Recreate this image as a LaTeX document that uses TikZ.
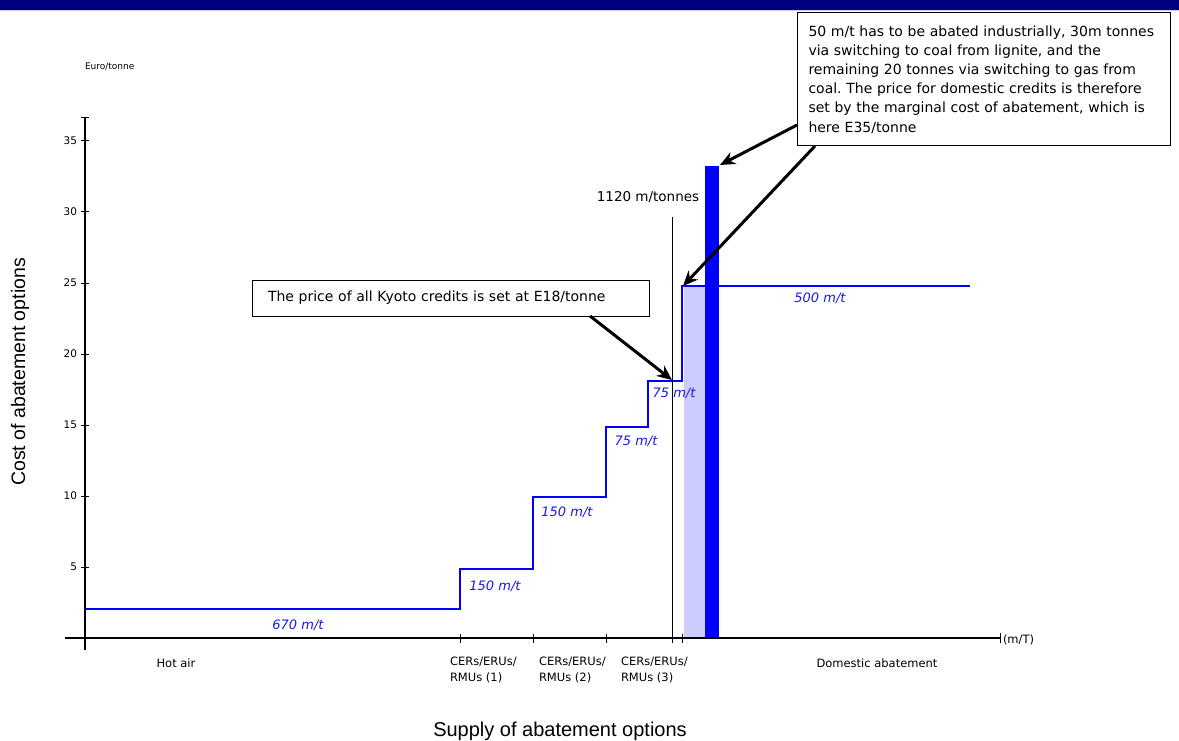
\documentclass[tikz,border=0pt]{standalone}
\usepackage{fontspec}
\setmainfont{DejaVu Sans}
\newfontfamily\arialfont{Liberation Sans}
\usetikzlibrary{arrows.meta, calc}
\definecolor{navyband}{RGB}{0,0,128}
\definecolor{stepblue}{RGB}{0,0,255}
\definecolor{lightbar}{RGB}{204,204,255}
\definecolor{labelblue}{RGB}{25,25,235}
\frenchspacing

\begin{document}
\begin{tikzpicture}[x=1pt, y=-1pt, every node/.style={inner sep=0pt, outer sep=0pt}]
	\tikzstyle{axis}=[line width=1.5pt, black]
	\tikzstyle{supply}=[line width=2pt, stepblue]
	\tikzstyle{callout}=[
		draw,
		line width=1pt,
		fill=white,
		align=left,
		font=\fontsize{14}{19.2}\selectfont
	]
	\tikzstyle{pointer}=[line width=3pt, -{Stealth[length=15pt, width=13pt]}]
	\tikzstyle{small}=[font=\fontsize{11.5}{16}\selectfont, align=left]
	\tikzstyle{ticklabel}=[anchor=east, font=\fontsize{10.5}{12}\selectfont]
	\tikzstyle{amount}=[font=\fontsize{13}{15}\selectfont\itshape, text=labelblue]
	
	\useasboundingbox (0,0) rectangle (1179,741);
	\fill[navyband] (0,0) rectangle (1179,10);
	\fill[lightbar] (0,10) rectangle (1179,11.5);
	
	% supply curve and bars
	\fill[lightbar] (684,286) rectangle (705,638);
	\draw[supply] (85,609) -| (460,569) -| (533,497) -| (606,427) -| (648,381) -| (682,286) -- (970,286);
	\fill[stepblue] (705,166) rectangle (719,638);
	
	% axes
	\draw[axis] (85,118) -- (85,650);
	\draw[axis] (65,638) -- (1000,638);
	\draw[line width=1pt] (81,118) -- (89,118);
	\draw[line width=1pt] (1000,633) -- (1000,643);
	\foreach \x in {460,533,606,682}
		\draw[line width=1pt] (\x,634) -- (\x,643);
	\foreach \v in {5,10,...,35}{
		\pgfmathsetmacro{\yy}{638-14.2*\v}
		\draw[line width=1pt] (81,\yy) -- (89,\yy);
		\node[ticklabel] (tick\v) at (77,\yy) {\v};
	}
	
	% limit line
	\coordinate (limittop) at (672,217);
	\coordinate (limitbot) at (672,643);
	\draw[line width=1pt] (limittop) -- (limitbot);
	\node[font=\fontsize{13.5}{16}\selectfont] (limit) at (648,197) {1120 m/tonnes};
	
	% amounts
	\node[amount] (hotairamt) at (298,625) {670 m/t};
	\node[amount] (cer1amt) at (495,586) {150 m/t};
	\node[amount] (cer2amt) at (567,512) {150 m/t};
	\node[amount] (cer3amt) at (636,441) {75 m/t};
	\node[amount] (cer4amt) at (674,393) {75 m/t};
	\node[amount] (domesticamt) at (820,298) {500 m/t};
	
	% axis labels
	\node[small, anchor=west, font=\fontsize{9}{10}\selectfont] (euro) at (85,67) {Euro/tonne};
	\node[small] (hotair) at (176,663) {Hot air};
	\node[small, anchor=north west] (cer1) at (450,657) {CERs/ERUs/\\RMUs (1)};
	\node[small, anchor=north west] (cer2) at (539,657) {CERs/ERUs/\\RMUs (2)};
	\node[small, anchor=north west] (cer3) at (621,657) {CERs/ERUs/\\RMUs (3)};
	\node[small] (domestic) at (877,663) {Domestic abatement};
	\node[small, anchor=west] (unit) at (1003,640) {(m/T)};
	\node[rotate=90, font=\arialfont\fontsize{19.5}{22}\selectfont] (ytitle) at (20,372) {Cost of abatement options};
	\node[font=\arialfont\fontsize{20}{22}\selectfont] (xtitle) at (560,731) {Supply of abatement options};
	
	% callouts
	\node[callout, anchor=north west, text width=350pt, inner xsep=11.5pt, minimum height=133pt] (abate) at (797,13)
		{50 m/t has to be abated industrially, 30m tonnes\\
		via switching to coal from lignite, and the\\
		remaining 20 tonnes via switching to gas from\\
		coal. The price for domestic credits is therefore\\
		set by the marginal cost of abatement, which is\\
		here E35/tonne};
	\node[callout, anchor=north west, text width=365pt, inner xsep=16pt, minimum height=36pt] (kyoto) at (252,280)
		{The price of all Kyoto credits is set at E18/tonne};
	
	\coordinate (kyototip) at (672,380);
	\coordinate (domestictip) at (683,286);
	\coordinate (bartip) at (720,165);
	\draw[pointer] ($(kyoto.south west)+(338,0)$) -- (kyototip);
	\draw[pointer] ($(abate.south west)+(18,0)$) -- (domestictip);
	\draw[pointer] ($(abate.south west)+(0,-21)$) -- (bartip);
\end{tikzpicture}
\end{document}
